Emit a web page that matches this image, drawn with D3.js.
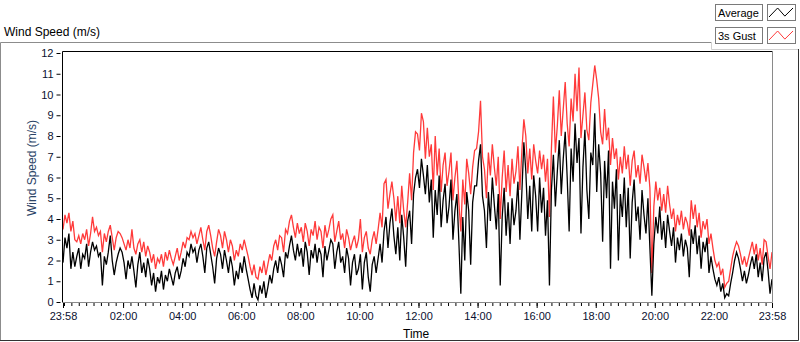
<!DOCTYPE html>
<meta charset="utf-8">
<style>
body { margin: 0; background: #fff; }
svg { display: block; font-family: "Liberation Sans", Arial, sans-serif; }
</style>
<svg id="chart" width="800" height="342"></svg>
<script src="https://d3js.org/d3.v7.min.js"></script>
<script>

// values, one sample every 4 minutes from 23:58
var stepMinutes = 4;
var seriesNames = ["Average", "3s Gust"];
var yTicks = [0, 1, 2, 3, 4, 5, 6, 7, 8, 9, 10, 11, 12];
var xTickLabels = ["23:58", "02:00", "04:00", "06:00", "08:00", "10:00", "12:00",
                   "14:00", "16:00", "18:00", "20:00", "22:00", "23:58"];

var avg = [
  1.9, 3.1, 2.6, 3.3, 1.6, 2.4, 1.7, 2.2, 2.6, 1.6, 2.3, 2.1, 2.8, 1.7, 2.4, 2.9, 2.5, 2.7, 2.2, 2.4, 0.8, 2.2, 1.8, 2.4, 3.2, 2.0, 1.3, 1.9, 2.3, 2.6,
  2.4, 1.9, 1.1, 2.0, 1.6, 2.2, 1.5, 0.7, 1.8, 2.4, 1.4, 1.9, 1.2, 2.1, 1.6, 0.8, 1.4, 0.5, 1.2, 0.9, 1.5, 0.6, 1.3, 1.0, 1.6, 1.2, 0.8, 1.4, 1.7, 1.1,
  1.5, 2.1, 1.7, 2.4, 2.2, 2.8, 2.4, 2.6, 1.9, 2.5, 2.8, 2.2, 1.4, 2.6, 2.9, 2.3, 1.7, 0.9, 2.1, 2.6, 2.3, 1.6, 2.5, 2.0, 1.4, 2.2, 1.7, 0.8, 1.5, 1.1,
  1.9, 1.4, 2.2, 1.6, 1.1, 0.6, 0.2, 0.9, 0.3, 0.1, 0.8, 0.4, 1.0, 0.2, 0.7, 1.3, 0.9, 1.6, 2.0, 1.4, 2.2, 1.8, 1.2, 2.4, 2.1, 2.7, 3.2, 2.5, 2.0, 2.8,
  2.2, 2.6, 1.7, 2.9, 2.4, 1.3, 2.5, 2.1, 2.8, 1.9, 2.6, 2.3, 1.2, 2.7, 2.0, 2.5, 3.0, 2.8, 1.6, 2.4, 2.9, 1.9, 2.2, 1.4, 2.6, 2.1, 0.8, 1.9, 2.3, 1.3,
  1.6, 2.3, 0.6, 1.9, 2.4, 1.2, 0.5, 1.8, 2.2, 1.4, 2.1, 2.8, 1.9, 3.4, 4.1, 2.6, 3.8, 4.5, 3.2, 2.3, 3.6, 2.0, 4.2, 3.1, 1.7, 3.9, 4.4, 2.8, 5.2, 6.0,
  6.4, 5.5, 6.9, 6.1, 5.2, 6.6, 4.8, 5.9, 3.1, 5.4, 4.2, 6.1, 3.6, 4.9, 5.7, 3.8, 4.6, 5.9, 3.0, 4.4, 5.2, 2.9, 0.4, 4.1, 2.0, 5.3, 4.4, 1.8, 4.8, 5.6,
  5.6, 6.8, 7.6, 5.1, 4.4, 2.6, 5.3, 3.9, 6.0, 4.7, 3.5, 5.2, 0.8, 4.1, 5.5, 3.2, 4.8, 2.8, 5.0, 3.7, 4.4, 5.8, 3.0, 5.3, 7.7, 6.3, 4.0, 5.6, 3.4, 6.1,
  5.1, 3.4, 6.0, 4.3, 5.5, 3.2, 4.9, 0.8, 5.4, 7.1, 4.6, 6.3, 7.8, 5.2, 6.9, 8.2, 6.0, 3.4, 7.4, 5.8, 8.6, 6.7, 7.9, 3.3, 6.5, 8.3, 5.4, 4.0, 7.2, 6.6,
  9.1, 5.3, 7.6, 6.2, 2.9, 6.8, 5.0, 7.3, 1.6, 5.8, 4.5, 6.4, 2.0, 5.2, 4.1, 6.0, 3.6, 5.5, 2.1, 4.8, 5.9, 3.9, 4.6, 3.0, 5.4, 4.2, 3.3, 5.0, 2.6, 0.3,
  2.8, 4.1, 3.3, 4.6, 3.0, 3.9, 2.6, 4.2, 3.4, 2.7, 3.6, 1.9, 3.1, 2.5, 3.3, 2.2, 3.0, 2.6, 1.2, 3.5, 2.8, 3.7, 2.3, 3.2, 1.6, 2.9, 2.4, 3.1, 1.4, 2.2,
  1.6, 1.1, 0.8, 1.2, 0.5, 0.9, 0.2, 0.4, 0.3, 0.9, 1.4, 2.0, 2.4, 2.1, 1.6, 1.0, 1.5, 0.9, 1.3, 1.8, 2.2, 1.6, 2.3, 1.2, 1.9, 1.0, 2.1, 2.4, 1.5, 0.4,
  1.1
];

var gust = [
  3.5, 4.2, 3.8, 4.3, 3.4, 3.9, 3.0, 2.9, 3.2, 2.8, 3.3, 3.0, 3.5, 2.7, 3.3, 4.1, 3.4, 3.6, 3.2, 3.4, 2.4, 3.3, 2.9, 3.4, 3.7, 3.1, 2.5, 3.1, 3.4, 3.3,
  3.1, 2.8, 2.5, 3.0, 2.6, 3.5, 2.6, 2.3, 2.8, 3.0, 2.4, 2.9, 2.2, 2.7, 2.4, 1.9, 2.3, 1.6, 2.1, 1.9, 2.3, 1.7, 2.4, 2.0, 2.5, 2.1, 1.8, 2.2, 2.6, 2.0,
  2.4, 2.9, 2.6, 3.1, 3.0, 3.4, 3.1, 3.3, 2.8, 3.2, 3.6, 3.0, 2.5, 3.4, 3.7, 3.2, 2.6, 2.2, 2.9, 3.5, 3.2, 2.6, 3.4, 3.0, 2.4, 3.0, 2.7, 2.0, 2.5, 2.2,
  2.8, 2.5, 3.0, 2.6, 2.2, 1.7, 1.3, 1.8, 1.2, 1.1, 1.7, 1.4, 2.0, 1.3, 1.8, 2.3, 2.0, 2.7, 3.0, 2.5, 3.2, 3.1, 2.4, 3.5, 3.3, 3.9, 4.2, 3.6, 3.1, 3.8,
  3.3, 3.6, 2.9, 3.8, 3.4, 2.7, 3.5, 3.2, 3.9, 3.0, 3.6, 3.4, 2.6, 3.7, 3.1, 3.5, 4.0, 4.2, 2.9, 3.4, 3.9, 3.0, 3.3, 2.6, 3.5, 3.1, 2.5, 2.9, 3.2, 2.6,
  3.0, 4.0, 2.4, 3.1, 3.4, 2.6, 2.3, 3.0, 3.4, 2.8, 3.5, 4.3, 3.6, 5.7, 5.9, 4.5, 5.2, 5.8, 5.0, 3.9, 5.1, 3.8, 5.6, 4.4, 3.6, 4.8, 6.2, 4.9, 7.2, 8.2,
  8.1, 7.3, 9.1, 8.7, 6.9, 8.4, 7.0, 7.6, 5.4, 8.0, 6.1, 7.4, 5.3, 6.6, 7.2, 5.6, 6.3, 7.2, 4.9, 6.0, 6.8, 4.8, 3.4, 5.9, 4.7, 6.9, 6.2, 5.2, 6.5, 7.3,
  7.4, 8.2, 9.7, 7.0, 6.4, 5.0, 7.2, 6.1, 7.6, 6.5, 5.6, 7.0, 4.0, 6.0, 7.3, 5.3, 6.6, 5.1, 6.9, 5.7, 6.3, 7.5, 5.4, 7.3, 8.8, 8.0, 6.2, 7.4, 5.9, 7.6,
  6.8, 6.2, 7.3, 6.4, 7.1, 5.8, 6.9, 4.1, 7.4, 9.9, 7.2, 8.5, 10.2, 8.0, 9.3, 10.6, 8.6, 7.5, 9.8, 8.7, 11.0, 9.2, 11.3, 7.9, 9.0, 10.1, 8.3, 7.8, 9.6, 10.5,
  11.4, 10.7, 9.8, 8.2, 7.6, 9.3, 7.8, 8.4, 6.6, 7.9, 6.9, 7.4, 5.9, 7.0, 6.2, 7.5, 6.4, 7.1, 5.6, 6.8, 7.3, 6.0, 6.6, 5.7, 7.1, 6.5, 5.8, 6.7, 5.5, 1.4,
  4.6, 5.8, 4.9, 5.5, 4.4, 5.2, 4.3, 5.6, 4.7, 4.0, 4.5, 3.4, 4.2, 3.7, 4.4, 3.5, 4.1, 3.8, 3.2, 4.9, 4.0, 4.7, 3.6, 4.3, 3.1, 3.9, 3.5, 4.0, 2.8, 3.3,
  2.6, 2.0, 1.7, 1.9, 1.3, 1.6, 0.7, 0.9, 1.0, 1.6, 2.2, 2.6, 2.9, 2.7, 2.3, 1.8, 2.2, 1.7, 2.1, 2.5, 2.9, 2.3, 2.8, 2.0, 2.6, 1.8, 3.0, 2.9, 2.2, 1.6,
  2.4
];

var svg = d3.select("#chart"),
    frame = {left: 62.5, top: 51.5, right: 772.5, bottom: 302.5};

var t0 = new Date(2000, 0, 1, 23, 58),
    t1 = d3.timeDay.offset(t0, 1);

var x = d3.scaleTime().domain([t0, t1]).range([63, 772]);
var y = d3.scaleLinear().domain([0, 12]).range([302, 53]);

function toPoints(values) {
  return values.map(function(v, i) {
    return {t: d3.timeMinute.offset(t0, i * stepMinutes), v: v};
  });
}

// outer panel
svg.append("rect").attr("width", 800).attr("height", 342).attr("fill", "#fff");
svg.append("path").attr("fill", "none").attr("stroke", "#8c8c8c")
    .attr("d", "M0.5,341V42.5H711");
svg.append("path").attr("fill", "none").attr("stroke", "#333")
    .attr("d", "M0,340.5H798.5V49");
svg.append("path").attr("fill", "none").attr("stroke", "#d0d0d0")
    .attr("d", "M711.5,42V49.5H798");

svg.append("text")
    .attr("x", 4).attr("y", 36)
    .attr("font-size", 12)
    .attr("fill", "#000")
    .text("Wind Speed (m/s)");

// plot frame
svg.append("path").attr("fill", "none").attr("stroke", "#000")
    .attr("d", "M" + frame.left + "," + frame.bottom + "V" + frame.top + "H" + frame.right);
svg.append("path").attr("fill", "none").attr("stroke", "#8a8a8a")
    .attr("d", "M" + frame.right + "," + frame.top + "V" + frame.bottom + "H" + frame.left);

svg.append("clipPath").attr("id", "clip")
  .append("rect")
    .attr("x", 63).attr("y", 52)
    .attr("width", 709).attr("height", 250);

var line = d3.line()
    .x(function(d) { return x(d.t); })
    .y(function(d) { return y(d.v); });

var lines = svg.append("g").attr("clip-path", "url(#clip)");

lines.append("path")
    .datum(toPoints(gust))
    .attr("fill", "none")
    .attr("stroke", "#ff3a3a")
    .attr("stroke-width", 1.3)
    .attr("stroke-linejoin", "miter")
    .attr("d", line);

lines.append("path")
    .datum(toPoints(avg))
    .attr("fill", "none")
    .attr("stroke", "#000")
    .attr("stroke-width", 1.3)
    .attr("stroke-linejoin", "miter")
    .attr("d", line);

// y axis
var yAxis = svg.append("g")
    .attr("transform", "translate(60.5,0)")
    .call(d3.axisLeft(y).tickValues(yTicks).tickSize(4).tickPadding(3).tickFormat(d3.format("d")));
yAxis.select(".domain").remove();
yAxis.attr("font-family", null).attr("font-size", 11);
yAxis.selectAll("text").attr("fill", "#0b1030");

svg.append("text")
    .attr("transform", "translate(35.5,168) rotate(-90)")
    .attr("text-anchor", "middle")
    .attr("font-size", 12)
    .attr("fill", "#2a4366")
    .text("Wind Speed (m/s)");

// x axis: minor ticks every 15 minutes, labelled ticks every two hours
var minorTimes = d3.timeMinute.every(15).range(t0, t1);
var majorTimes = xTickLabels.map(function(label, i) {
  if (i === 0) return t0;
  if (i === xTickLabels.length - 1) return t1;
  var p = label.split(":");
  return new Date(2000, 0, 2, +p[0], +p[1]);
});

var xMinor = svg.append("g")
    .attr("transform", "translate(0,303)")
    .call(d3.axisBottom(x).tickValues(minorTimes).tickSize(3).tickFormat(""));
xMinor.select(".domain").remove();

var xAxis = svg.append("g")
    .attr("transform", "translate(0,303)")
    .call(d3.axisBottom(x).tickValues(majorTimes).tickSize(5).tickPadding(4)
      .tickFormat(function(d, i) { return xTickLabels[i]; }));
xAxis.select(".domain").remove();
xAxis.attr("font-family", null).attr("font-size", 11);
xAxis.selectAll("text").attr("fill", "#0b1030");

svg.append("text")
    .attr("x", 403).attr("y", 338)
    .attr("font-size", 12)
    .attr("fill", "#000")
    .text("Time");

// legend
var legendZig = [[0, 1], [0.36, 0], [0.66, 0.9], [1, 0]];
var lx = d3.scaleLinear().range([769, 793]),
    ly = d3.scaleLinear().range([0, 9]);
var zig = d3.line()
    .x(function(d) { return lx(d[0]); })
    .y(function(d) { return ly(d[1]); });

var legend = svg.selectAll(".legend")
    .data(seriesNames)
  .enter().append("g")
    .attr("class", "legend")
    .attr("transform", function(d, i) { return "translate(0," + (i * 23) + ")"; });

legend.append("rect")
    .attr("x", 715.5).attr("y", 4.5)
    .attr("width", 47).attr("height", 16)
    .attr("fill", "#fff").attr("stroke", "#7a7a7a");

legend.append("text")
    .attr("x", 718).attr("y", 17)
    .attr("font-size", 11)
    .attr("fill", "#000")
    .text(function(d) { return d; });

legend.append("rect")
    .attr("x", 767.5).attr("y", 4.5)
    .attr("width", 28).attr("height", 16)
    .attr("fill", "#fff").attr("stroke", "#7a7a7a");

legend.append("path")
    .attr("transform", "translate(0,8)")
    .attr("fill", "none")
    .attr("stroke", function(d, i) { return i ? "#ff3a3a" : "#000"; })
    .attr("d", zig(legendZig));

</script>
